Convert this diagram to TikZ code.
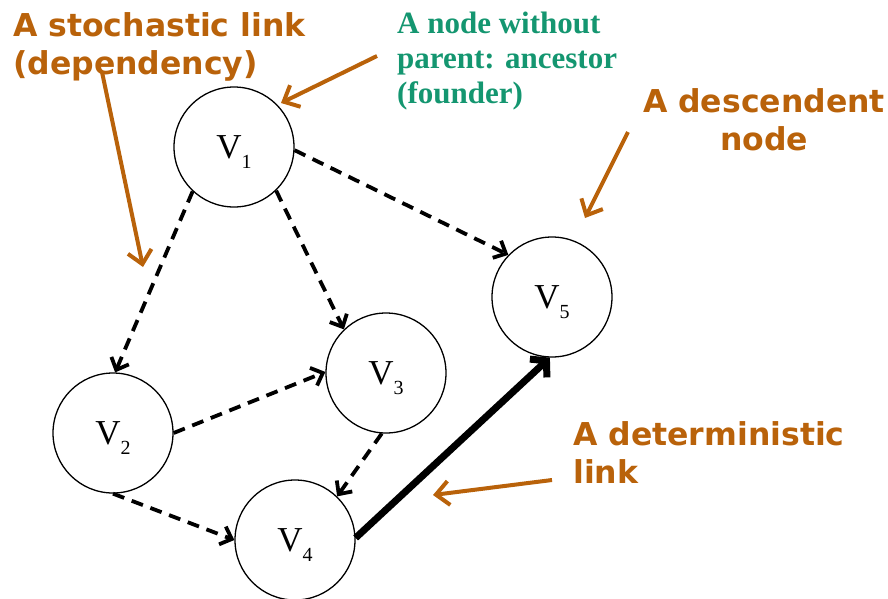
\documentclass[tikz,border=0pt]{standalone}
\usepackage{fontspec}
\setmainfont{Liberation Serif}
\newfontfamily\orfont{DejaVu Sans}
\usetikzlibrary{arrows.meta}
\definecolor{anno}{RGB}{185,98,10}
\definecolor{grn}{RGB}{20,150,112}
\newcommand\vlab[2]{#1\smash{\raisebox{-10pt}{\fontsize{20}{20}\selectfont #2}}}
\begin{document}
\begin{tikzpicture}[x=1pt,y=-1pt,
  vnode/.style={circle,draw,line width=1.3pt,minimum size=120pt,inner sep=0pt,font=\fontsize{35}{35}\selectfont},
  stoch/.style={line width=3.8pt,dash pattern=on 12pt off 8pt,-{Straight Barb[length=10pt,width=19pt]}},
  determ/.style={line width=7pt,-{Straight Barb[length=11pt,width=25pt]}},
  annoarrow/.style={anno,line width=4pt,-{Straight Barb[length=13pt,width=24pt]}},
  annotext/.style={anno,font=\orfont\bfseries\fontsize{31.5}{38}\selectfont,inner sep=0pt},
  grntext/.style={grn,font=\bfseries\fontsize{31}{35}\selectfont,inner sep=0pt,align=left}]
\useasboundingbox (0,0) rectangle (888,598);
% nodes
\node[vnode] (v1) at (234,147) {\vlab{V}{1}};
\node[vnode] (v2) at (113,433) {\vlab{V}{2}};
\node[vnode] (v3) at (386,373) {\vlab{V}{3}};
\node[vnode] (v4) at (295,540) {\vlab{V}{4}};
\node[vnode] (v5) at (552,297) {\vlab{V}{5}};
% edges
\draw[stoch] (v1.227) -- (v2.88);
\draw[stoch] (v1.-46) -- (v3.134);
\draw[stoch] (v1.-3) -- (v5.136);
\draw[stoch] (v2.0) -- (v3.179);
\draw[stoch] (v2.270) -- (v4.180);
\draw[stoch] (v3.266) -- (v4.46);
\draw[determ] (v4.2) -- (v5.268);
% annotations
\node[annotext,align=left,anchor=base west] (t1) at (13,74) {A stochastic link\\(dependency)};
\node[grntext,anchor=base west] (t2) at (397,103) {A node without\\parent: ancestor\\(founder)};
\node[annotext,align=center,anchor=base] (t3) at (764,150) {A descendent\\node};
\node[annotext,align=left,anchor=base west] (t4) at (573,483) {A deterministic\\link};
\coordinate (a1s) at (102,72);
\coordinate (a1e) at (143,267);
\coordinate (a2s) at (377,56);
\coordinate (a2e) at (281,103);
\coordinate (a3s) at (628,132);
\coordinate (a3e) at (585,218);
\coordinate (a4s) at (552,480);
\coordinate (a4e) at (433,495);
\draw[annoarrow] (a1s) -- (a1e);
\draw[annoarrow] (a2s) -- (a2e);
\draw[annoarrow] (a3s) -- (a3e);
\draw[annoarrow] (a4s) -- (a4e);
\end{tikzpicture}
\end{document}
